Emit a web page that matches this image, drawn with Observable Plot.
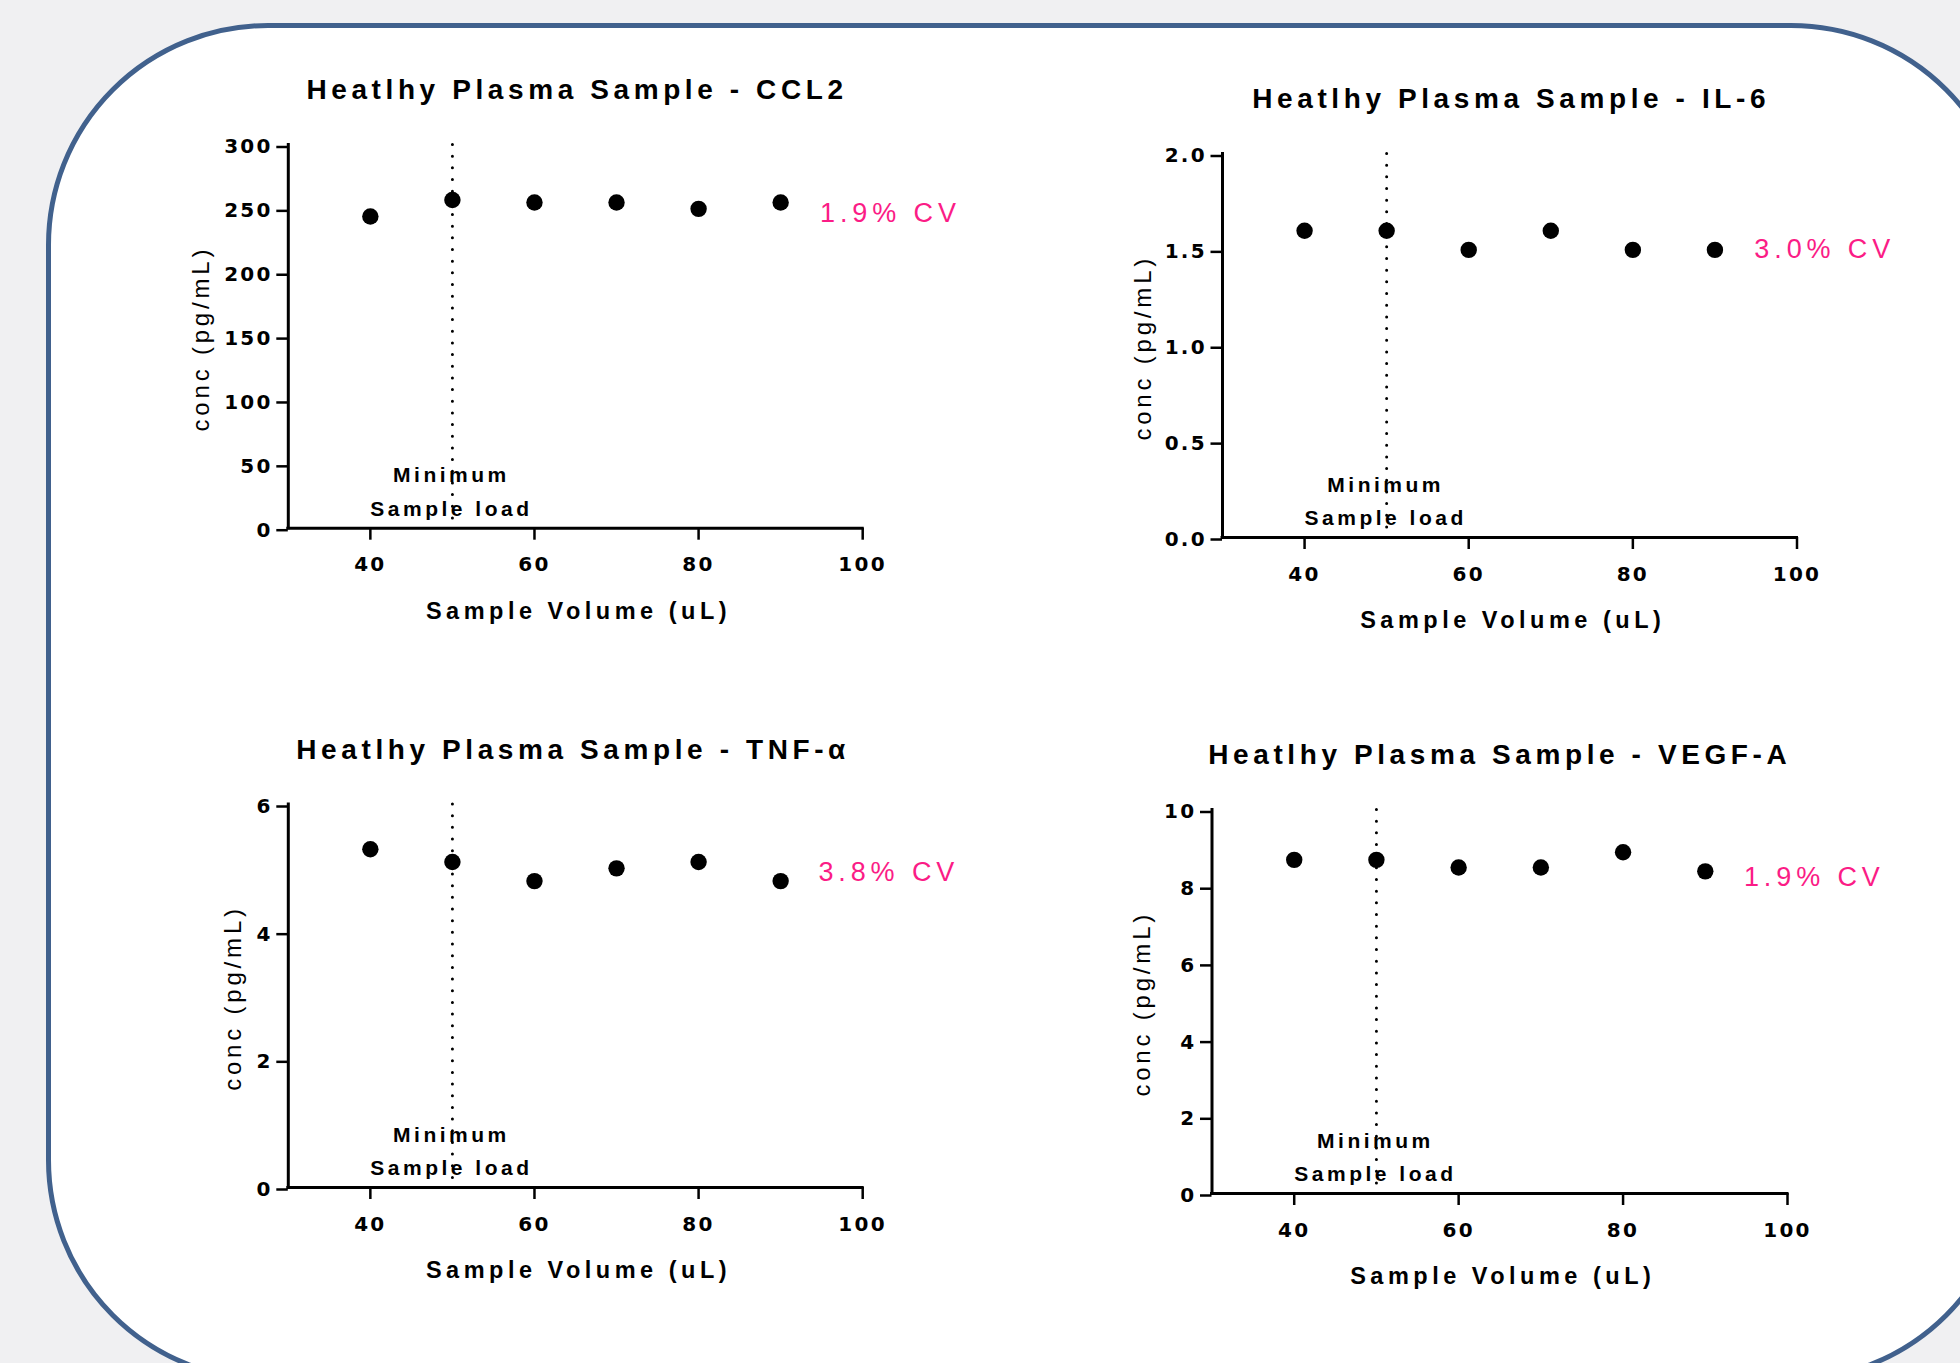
<!DOCTYPE html>
<html>
<head>
<meta charset="utf-8">
<script src="https://cdn.jsdelivr.net/npm/d3@7"></script>
<script src="https://cdn.jsdelivr.net/npm/@observablehq/plot@0.6"></script>
<style>
html, body { margin: 0; padding: 0; background: #f0f0f2; }
body { width: 1960px; height: 1363px; overflow: hidden; position: relative; font-family: "Liberation Sans", Arial, sans-serif; }
#frame { position: absolute; left: 45.5px; top: 22.5px; width: 1967px; height: 1359px; box-sizing: border-box;
  border: 5px solid #41618d; border-radius: 222px; background: #ffffff; }
.panel { position: absolute; }
.panel svg { overflow: visible; max-width: none; }
g[aria-label="x-axis tick label"], g[aria-label="y-axis tick label"] {
  letter-spacing: 2.3px; font-weight: bold; font-size: 20px; font-family: "DejaVu Sans", "Liberation Sans", sans-serif; }
</style>
</head>
<body>
<div id="frame"></div>
<div id="p0" class="panel"></div>
<div id="p1" class="panel"></div>
<div id="p2" class="panel"></div>
<div id="p3" class="panel"></div>
<script>
// ---- data ----
const volumes = [40, 50, 60, 70, 80, 90];
const ccl2 = [244, 257, 255, 255, 250, 255];
const il6 = [1.6, 1.6, 1.5, 1.6, 1.5, 1.5];
const tnfa = [5.3, 5.1, 4.8, 5.0, 5.1, 4.8];
const vegfa = [8.7, 8.7, 8.5, 8.5, 8.9, 8.4];
const seriesValues = [ccl2, il6, tnfa, vegfa];
const titles = [
  "Heatlhy Plasma Sample - CCL2",
  "Heatlhy Plasma Sample - IL-6",
  "Heatlhy Plasma Sample - TNF-\u03b1",
  "Heatlhy Plasma Sample - VEGF-A"
];
const cvLabels = ["1.9% CV", "3.0% CV", "3.8% CV", "1.9% CV"];
const xTicks = [40, 60, 80, 100];
const yTicksCCL2 = [0, 50, 100, 150, 200, 250, 300];
const yTicksIL6 = [0, 0.5, 1.0, 1.5, 2.0];
const yTicksTNF = [0, 2, 4, 6];
const yTicksVEGF = [0, 2, 4, 6, 8, 10];
const yTickSets = [yTicksCCL2, yTicksIL6, yTicksTNF, yTicksVEGF];
const yTickFormats = ["d", ".1f", "d", "d"];
const xDomain = [30, 100];
const xLabel = "Sample Volume (uL)";
const yLabel = "conc (pg/mL)";
const minLabel = "Minimum\nSample load";
const minVolume = 50;
// CV annotation anchor in data units (x volume, y concentration)
const cvX = [94.8, 94.8, 94.6, 94.7];
const cvY = [246.8, 1.503, 4.94, 8.24];

// ---- layout (pixels) ----
const layout = [
  {left: 0,   top: 0,   width: 980, height: 660, plot: [287.8, 862.2, 144.5, 527.7], yLabelOff: 79.4, titleDx: 1.5},
  {left: 980, top: 0,   width: 980, height: 660, plot: [1222, 1796.5, 153.5, 537],  yLabelOff: 71.5, titleDx: 1.4},
  {left: 0,   top: 660, width: 980, height: 700, plot: [287.8, 862.2, 804, 1187],   yLabelOff: 47,   titleDx: -2.4},
  {left: 980, top: 660, width: 980, height: 700, plot: [1211.5, 1787, 809.5, 1193], yLabelOff: 62,   titleDx: 0}
];
// letter spacing for the text marks, in mark order: min-load, CV, title, x label, y label
const textSpacing = [3.5, 4.9, 4.6, 4.5, 3.8];

const INK = "#000000";
const PINK = "#fb1c86";

function makePanel(i) {
  const L = layout[i];
  const [x0, x1, y0, y1] = L.plot;
  const ticks = yTickSets[i];
  const yDomain = [ticks[0], ticks[ticks.length - 1]];
  const rows = volumes.map((v, j) => ({volume: v, conc: seriesValues[i][j]}));
  const chart = Plot.plot({
    width: L.width,
    height: L.height,
    marginLeft: x0 - L.left,
    marginRight: L.left + L.width - x1,
    marginTop: y0 - L.top,
    marginBottom: L.top + L.height - y1,
    x: {domain: xDomain},
    y: {domain: yDomain},
    style: {fontFamily: '"Liberation Sans", Arial, sans-serif', color: INK, background: "transparent", overflow: "visible"},
    marks: [
      Plot.axisX({ticks: xTicks, tickSize: 12, tickPadding: 17, strokeWidth: 2.5, fontSize: 20, fontWeight: "bold", label: null}),
      Plot.axisY({ticks: ticks, tickFormat: yTickFormats[i], tickSize: 11.5, tickPadding: 4, strokeWidth: 2.5, fontSize: 20, fontWeight: "bold", label: null, dy: 2}),
      Plot.ruleY([yDomain[0]], {stroke: INK, strokeWidth: 3, strokeLinecap: "square"}),
      Plot.ruleX([xDomain[0]], {stroke: INK, strokeWidth: 3, strokeLinecap: "square"}),
      Plot.ruleX([minVolume], {stroke: INK, strokeWidth: 3, strokeDasharray: "0 11.67", strokeLinecap: "round"}),
      Plot.text([minVolume], {x: d => d, text: () => minLabel, frameAnchor: "bottom", lineAnchor: "bottom",
        textAnchor: "middle", lineHeight: 1.59, dy: -12.5, dx: -1, fontSize: 21, fontWeight: "bold", fill: INK}),
      Plot.dot(rows, {x: "volume", y: "conc", r: 8.2, fill: INK, stroke: "none"}),
      Plot.text([cvLabels[i]], {x: () => cvX[i], y: () => cvY[i], text: d => d, textAnchor: "start", lineAnchor: "middle",
        fontSize: 27, fill: PINK}),
      Plot.text([titles[i]], {text: d => d, frameAnchor: "top", lineAnchor: "bottom", textAnchor: "middle", dy: -46, dx: L.titleDx,
        fontSize: 28, fontWeight: "bold", fill: INK}),
      Plot.text([xLabel], {text: d => d, frameAnchor: "bottom", lineAnchor: "bottom", textAnchor: "middle", dy: 90.5, dx: 3,
        fontSize: 23.5, fontWeight: "bold", fill: INK}),
      Plot.text([yLabel], {text: d => d, frameAnchor: "left", rotate: -90, lineAnchor: "bottom", textAnchor: "middle",
        dx: -L.yLabelOff, dy: 2, fontSize: 24, fill: INK})
    ]
  });
  chart.querySelectorAll('g[aria-label="text"]').forEach((g, k) => {
    if (k < textSpacing.length) g.style.letterSpacing = textSpacing[k] + "px";
  });
  const host = document.getElementById("p" + i);
  host.style.left = L.left + "px";
  host.style.top = L.top + "px";
  host.style.width = L.width + "px";
  host.style.height = L.height + "px";
  host.appendChild(chart);
}

for (let i = 0; i < 4; i++) makePanel(i);
</script>
</body>
</html>
